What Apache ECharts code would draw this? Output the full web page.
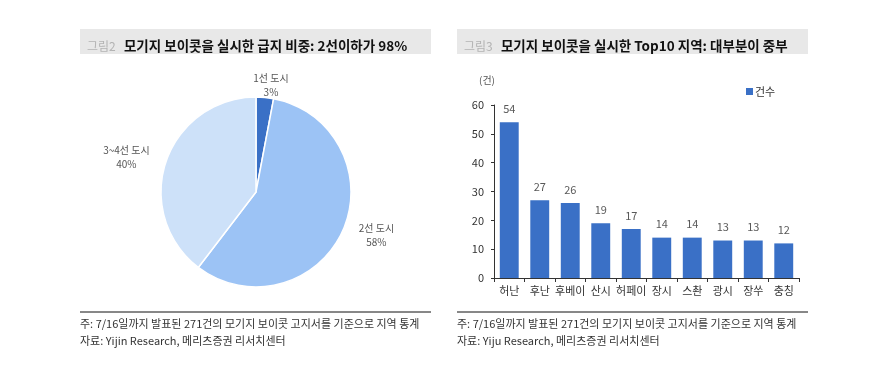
<!DOCTYPE html>
<html><head><meta charset="utf-8">
<script src="https://cdn.jsdelivr.net/npm/echarts@6/dist/echarts.min.js"></script>
<style>html,body{margin:0;padding:0;background:#fff}#c{width:892px;height:376px}</style>
</head><body><div id="c"></div>
<script>
const pieNames = ['1선 도시', '2선 도시', '3~4선 도시'];
const pieValues = [3, 58, 40];
const pieColors = ['#3a70c6', '#9cc3f5', '#cde1f9'];

const barCategories = ['허난', '후난', '후베이', '산시', '허페이', '장시', '스촨', '광시', '장쑤', '충칭'];
const barValues = [54, 27, 26, 19, 17, 14, 14, 13, 13, 12];
const yTicks = {min: 0, max: 60, interval: 10};

const leftTitle = '모기지 보이콧을 실시한 급지 비중: 2선이하가 98%';
const rightTitle = '모기지 보이콧을 실시한 Top10 지역: 대부분이 중부';
const leftNotes = ['주: 7/16일까지 발표된 271건의 모기지 보이콧 고지서를 기준으로 지역 통계', '자료: Yijin Research, 메리츠증권 리서치센터'];
const rightNotes = ['주: 7/16일까지 발표된 271건의 모기지 보이콧 고지서를 기준으로 지역 통계', '자료: Yiju Research, 메리츠증권 리서치센터'];

const FONT = '"Noto Sans CJK KR", "Noto Sans", sans-serif';
const chart = echarts.init(document.getElementById('c'), null, {renderer: 'canvas'});

function titleRich(fig, text) {
  return '{f|' + fig + '}  {t|' + text + '}';
}
const titleRichStyle = {
  f: {fontFamily: FONT, fontSize: 12, color: '#b3b3b3', fontWeight: 'normal'},
  t: {fontFamily: FONT, fontSize: 13.5, color: '#111', fontWeight: 'bold'}
};

chart.setOption({
  animation: false,
  textStyle: {fontFamily: FONT},
  graphic: [
    {type: 'rect', shape: {x: 80, y: 29, width: 351, height: 25}, style: {fill: '#e8e8e8'}, z: -1},
    {type: 'rect', shape: {x: 457, y: 29, width: 351, height: 25}, style: {fill: '#e8e8e8'}, z: -1},
    {type: 'line', shape: {x1: 80, y1: 312, x2: 431, y2: 312}, style: {stroke: '#111', lineWidth: 1}},
    {type: 'line', shape: {x1: 457, y1: 312, x2: 808, y2: 312}, style: {stroke: '#111', lineWidth: 1}},
    {type: 'text', left: 80, top: 315, style: {text: leftNotes.join('\n'), fontFamily: FONT, fontSize: 11, lineHeight: 17, fill: '#333'}},
    {type: 'text', left: 457, top: 315, style: {text: rightNotes.join('\n'), fontFamily: FONT, fontSize: 11, lineHeight: 17, fill: '#333'}}
  ],
  title: [
    {text: titleRich('그림2', leftTitle), left: 82, top: 32, textStyle: {rich: titleRichStyle}},
    {text: titleRich('그림3', rightTitle), left: 459, top: 32, textStyle: {rich: titleRichStyle}}
  ],
  legend: {
    data: ['건수'], left: 741, top: 81, icon: 'rect', itemWidth: 7, itemHeight: 7, itemGap: 2,
    textStyle: {fontFamily: FONT, fontSize: 11, color: '#333', padding: [0, 0, 0, -3]}
  },
  grid: {left: 494, right: 93, top: 105, bottom: 98, containLabel: false},
  xAxis: {
    type: 'category', data: barCategories,
    axisLine: {lineStyle: {color: '#333'}},
    axisTick: {show: true, alignWithLabel: false, interval: 0, length: 4, lineStyle: {color: '#333'}},
    axisLabel: {interval: 0, fontFamily: FONT, fontSize: 11, color: '#333', margin: 7}
  },
  yAxis: {
    type: 'value', min: yTicks.min, max: yTicks.max, interval: yTicks.interval,
    name: '(건)', nameLocation: 'end', nameGap: 20,
    nameTextStyle: {fontFamily: FONT, fontSize: 10, color: '#555', padding: [0, 14, 0, 0]},
    axisLine: {show: true, lineStyle: {color: '#333'}},
    axisTick: {show: true, length: 3, lineStyle: {color: '#333'}},
    splitLine: {show: false},
    axisLabel: {fontFamily: FONT, fontSize: 11, color: '#333', margin: 10}
  },
  series: [
    {
      type: 'pie', name: 'pie', center: [256, 192], radius: [0, 95],
      startAngle: 90, clockwise: true,
      data: pieNames.map((n, i) => ({name: n, value: pieValues[i], itemStyle: {color: pieColors[i]}})),
      itemStyle: {borderColor: '#fff', borderWidth: 1.5},
      label: {
        show: true, position: 'outside',
        formatter: '{n|{b}}\n{v|{c}%}',
        rich: {
          n: {fontFamily: FONT, fontSize: 10, color: '#555', align: 'center', lineHeight: 14},
          v: {fontFamily: FONT, fontSize: 10, color: '#555', align: 'center', lineHeight: 14}
        }
      },
      labelLine: {show: false, length: 12, length2: 0},
      labelLayout: function (p) { return p.dataIndex === 0 ? {align: 'center'} : {}; },
      emphasis: {disabled: true}
    },
    {
      type: 'bar', name: '건수', data: barValues, barWidth: '62%',
      itemStyle: {color: '#3a70c6'},
      label: {show: true, position: 'top', distance: 8, fontFamily: FONT, fontSize: 11, color: '#595959'}
    }
  ]
});
</script></body></html>
